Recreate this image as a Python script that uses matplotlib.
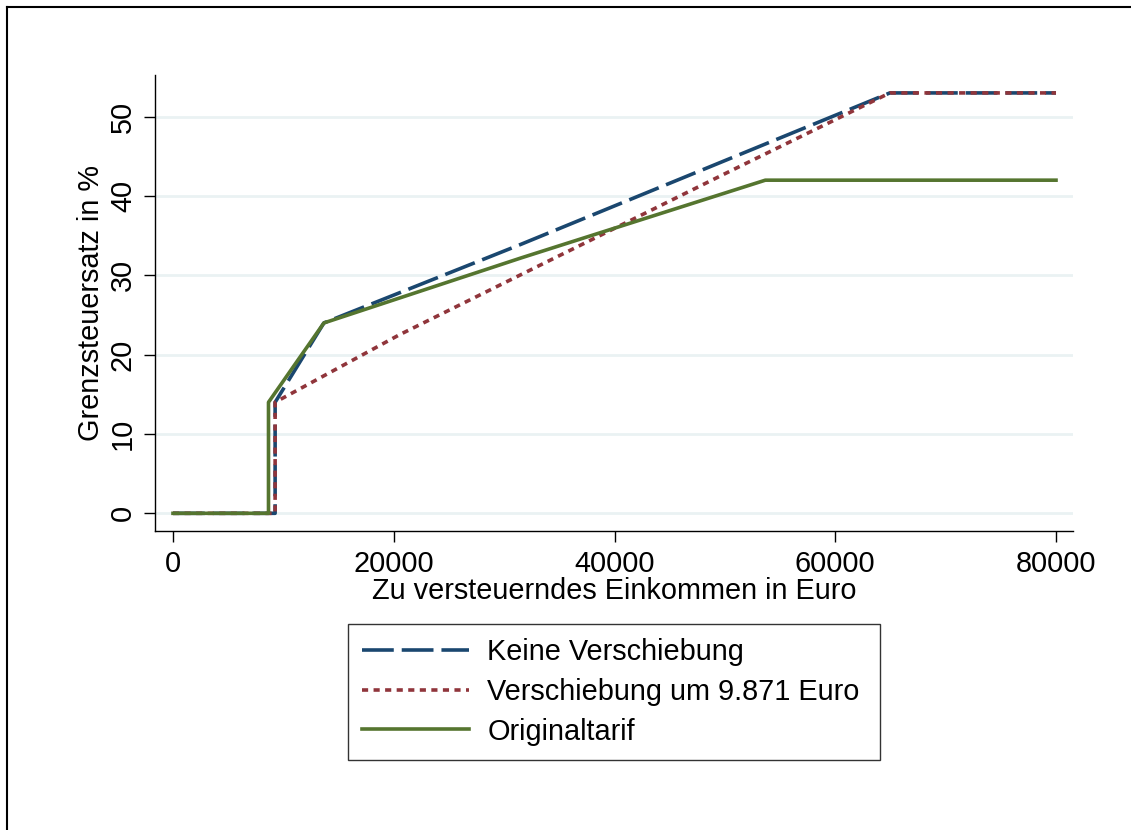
import matplotlib
matplotlib.use("Agg")
import matplotlib.pyplot as plt
from matplotlib.lines import Line2D

plt.rcParams['font.family'] = ['Liberation Sans', 'DejaVu Sans']

# --- data ---
income_keine = [0, 9252, 9252, 13670, 31500, 64943, 80000]
rate_keine = [0, 0, 14, 24, 33.9, 53, 53]

income_versch = [0, 9252, 9252, 20500, 50130, 64943, 80000]
rate_versch = [0, 0, 14, 22.5, 42.9, 53, 53]

income_orig = [0, 8652, 8652, 13670, 31540, 53665, 80000]
rate_orig = [0, 0, 14, 24, 32.2, 42, 42]

labels = ["Keine Verschiebung", "Verschiebung um 9.871 Euro", "Originaltarif"]
xticks = [0, 20000, 40000, 60000, 80000]
yticks = [0, 10, 20, 30, 40, 50]

navy = "#1a476f"
maroon = "#90353b"
green = "#55752f"
gridc = "#eaf2f3"

W, H = 1131, 830
fig = plt.figure(figsize=(W / 100, H / 100), dpi=100)
fig.patch.set_facecolor("white")

def fx(px):
    return px / W

def fy(py):
    return 1 - py / H

ax = fig.add_axes([fx(155), fy(531), fx(1073) - fx(155), fy(75) - fy(531)])

lw = 2.6
l1, = ax.plot(income_keine, rate_keine, color=navy, lw=lw, linestyle=(0, (8.8, 2.2)), label=labels[0])
l2, = ax.plot(income_versch, rate_versch, color=maroon, lw=lw, linestyle=(0, (1.7, 1.5)), label=labels[1])
l3, = ax.plot(income_orig, rate_orig, color=green, lw=lw, linestyle="-", label=labels[2])

ax.set_xlim(-1631, 81540)
ax.set_ylim(-2.23, 55.26)
ax.set_xticks(xticks)
ax.set_yticks(yticks)
ax.set_xticklabels([str(v) for v in xticks])
ax.set_yticklabels([str(v) for v in yticks], rotation=90, va="center")

for s in ["top", "right"]:
    ax.spines[s].set_visible(False)
for s in ["left", "bottom"]:
    ax.spines[s].set_linewidth(1.0)
    ax.spines[s].set_color("black")

ax.yaxis.grid(True, color=gridc, lw=2.0)
ax.xaxis.grid(False)
ax.set_axisbelow(True)

fs = 20.8
ax.tick_params(axis="both", direction="out", length=8, width=1.0, labelsize=fs, color="black")
ax.tick_params(axis="x", pad=6)
ax.tick_params(axis="y", pad=5)

ax.set_xlabel("Zu versteuerndes Einkommen in Euro", fontsize=fs)
ax.set_ylabel("Grenzsteuersatz in %", fontsize=fs)
ax.xaxis.set_label_coords((614 - 155) / (1073 - 155), (531 - 577) / (531 - 75))
ax.yaxis.set_label_coords((77 - 155) / (1073 - 155), 0.5)
ax.yaxis.label.set_va("top")

leg = fig.legend(handles=[l1, l2, l3], loc="upper left",
                 bbox_to_anchor=(fx(348), fy(757), fx(880) - fx(348), fy(624) - fy(757)),
                 mode="expand", fontsize=fs,
                 frameon=True, fancybox=False, edgecolor="black",
                 handlelength=3.7, handletextpad=0.62, labelspacing=0.4,
                 borderpad=0.5, borderaxespad=0)
leg.get_frame().set_linewidth(1.0)

# outer figure border (top and left)
fig.add_artist(Line2D([fx(7), fx(7)], [fy(7), 0], transform=fig.transFigure, color="black", lw=1.5))
fig.add_artist(Line2D([fx(7), 1], [fy(7), fy(7)], transform=fig.transFigure, color="black", lw=1.5))

fig.savefig("out.png", dpi=100)
